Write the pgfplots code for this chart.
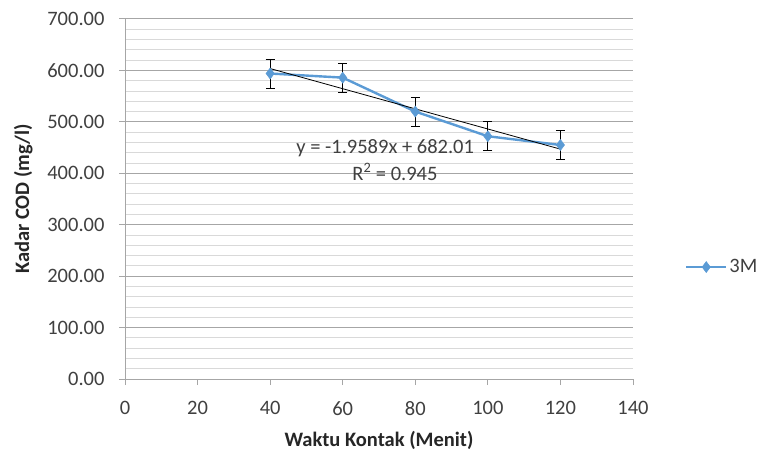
\documentclass[border=0pt]{standalone}
\usepackage{pgfplots}
\pgfplotsset{compat=1.18}
\usepackage{fontspec}
\setmainfont{Carlito}
\definecolor{xlblue}{HTML}{5B9BD5}
\definecolor{ticktext}{HTML}{404040}
\definecolor{majgrid}{HTML}{A6A6A6}
\definecolor{mingrid}{HTML}{D9D9D9}
\newcommand{\xlf}{\fontsize{20.5}{24}\selectfont}
\begin{document}
\begin{tikzpicture}[x=1pt,y=1pt]
\useasboundingbox (0,0) rectangle (765,453);
\begin{axis}[
  at={(125pt,74pt)}, anchor=south west,
  scale only axis, width=508pt, height=360pt,
  xmin=0, xmax=140, ymin=0, ymax=700,
  xtick={0,20,...,140}, ytick={0,100,...,700},
  minor y tick num=4,
  ymajorgrids, yminorgrids,
  major grid style={majgrid, line width=1pt},
  minor grid style={mingrid, line width=1pt},
  axis x line*=bottom, axis y line*=left,
  axis line style={majgrid, line width=1pt},
  x axis line style={-}, y axis line style={-},
  tick style={majgrid, line width=1pt},
  major tick length=6pt,
  minor tick length=0pt,
  xtick align=outside, ytick align=outside,
  /pgf/number format/assume math mode=true,
  yticklabel={\pgfmathprintnumber[fixed,fixed zerofill,precision=2]{\tick}},
  ticklabel style={font=\xlf, text=ticktext},
  xticklabel style={yshift=-13pt},
  yticklabel style={xshift=-11pt},
  xlabel={\textbf{Waktu Kontak (Menit)}},
  ylabel={\textbf{Kadar COD (mg/l)}},
  label style={font=\xlf, text=black!85},
  xlabel style={yshift=-9pt},
  ylabel style={yshift=8pt},
  legend style={at={(1.102,0.311)}, anchor=west, draw=none, fill=none,
    font=\xlf, text=ticktext, inner sep=0pt},
  legend cell align=left,
  legend image code/.code={%
    \draw[#1, mark repeat=2, mark phase=2] plot coordinates {(0pt,0pt) (20pt,0pt) (40pt,0pt)};},
  clip=false,
]
\addplot[color=xlblue, line width=2.4pt, mark=diamond*, mark size=5.5pt,
  mark options={fill=xlblue, draw=xlblue, line width=0.5pt},
  error bars/.cd, y dir=both, y explicit,
  error bar style={black, line width=0.8pt},
  error mark options={rotate=90, black, mark size=4.5pt, line width=0.8pt}]
  coordinates {
  (40,594) +- (0,28)
  (60,586) +- (0,28)
  (80,520) +- (0,28)
  (100,472) +- (0,28)
  (120,455) +- (0,28)
  };
\addlegendentry{3M}
\addplot[black, line width=0.8pt, forget plot] coordinates {(40,603.65) (120,446.94)};
\node[font=\xlf, text=ticktext] at (axis cs:71.7,449) {y = -1.9589x + 682.01};
\node[font=\xlf, text=ticktext] at (axis cs:74.4,402.5) {R\textsuperscript{2} = 0.945};
\end{axis}
\end{tikzpicture}
\end{document}
